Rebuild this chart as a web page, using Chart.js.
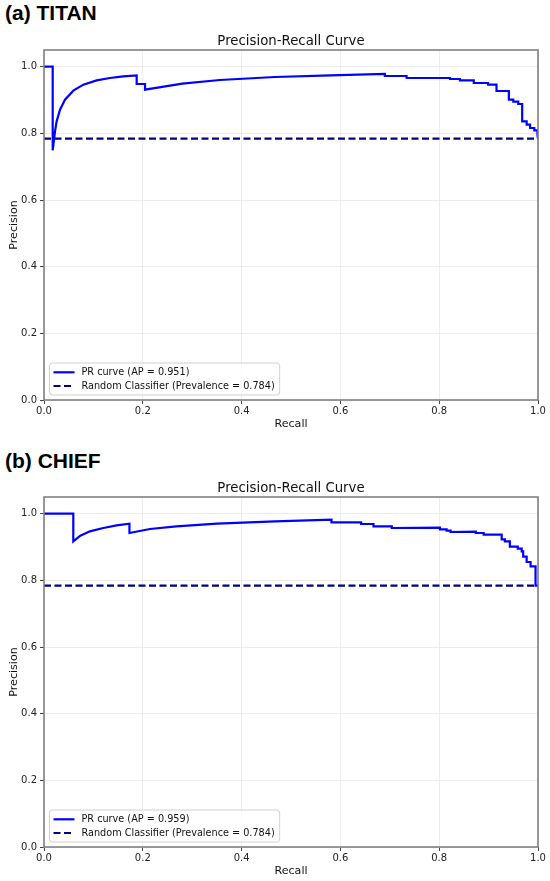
<!DOCTYPE html>
<html>
<head>
<meta charset="utf-8">
<title>Precision-Recall Curves</title>
<script src="https://cdn.jsdelivr.net/npm/chart.js@4.4.1/dist/chart.umd.min.js"></script>
<style>
  html, body { margin: 0; padding: 0; background: #fff; overflow: hidden; }
  body { width: 550px; height: 881px; position: relative; }
  .panel-label { position: absolute; left: 5px; font: bold 21px "Liberation Sans", Arial, sans-serif; line-height: 21px; color: #000; }
  .chart-box { position: absolute; left: 0; width: 550px; height: 407px; }
</style>
</head>
<body>
<div class="panel-label" style="top:2px">(a) TITAN</div>
<div class="chart-box" style="top:28px"><canvas id="titanChart"></canvas></div>
<div class="panel-label" style="top:450px">(b) CHIEF</div>
<div class="chart-box" style="top:475px"><canvas id="chiefChart"></canvas></div>
<script>
// Values
var xTicks = [0, 0.2, 0.4, 0.6, 0.8, 1.0];
var yTicks = [0, 0.2, 0.4, 0.6, 0.8, 1.0];
var prevalence = 0.784;

var titanAP = 0.951;
var titanRecall = [0, 0.0176, 0.0176, 0.0223, 0.0256, 0.0324, 0.0425, 0.0594, 0.0796, 0.1066, 0.1336, 0.1606, 0.1876,
    0.1876, 0.2045, 0.2045, 0.28, 0.356, 0.4676, 0.58, 0.69, 0.69, 0.734, 0.734, 0.822, 0.822, 0.842, 0.842,
    0.870, 0.870, 0.899, 0.899, 0.916, 0.916, 0.941, 0.941, 0.950, 0.950, 0.960, 0.960, 0.968, 0.968,
    0.977, 0.977, 0.984, 0.984, 0.9925, 0.9925, 0.999, 0.999, 1.0];
var titanPrecision = [1.0, 1.0, 0.749, 0.806, 0.836, 0.871, 0.901, 0.928, 0.946, 0.959, 0.966, 0.971, 0.974,
    0.948, 0.948, 0.931, 0.949, 0.960, 0.969, 0.974, 0.978, 0.972, 0.972, 0.966, 0.966, 0.963, 0.963, 0.959,
    0.959, 0.951, 0.951, 0.946, 0.946, 0.927, 0.927, 0.901, 0.901, 0.895, 0.895, 0.888, 0.888, 0.836,
    0.836, 0.826, 0.826, 0.816, 0.816, 0.809, 0.809, 0.796, 0.784];

var chiefAP = 0.959;
var chiefRecall = [0, 0.0593, 0.0593, 0.0735, 0.093, 0.120, 0.147, 0.173, 0.173, 0.2146, 0.268, 0.350, 0.4676,
    0.582, 0.582, 0.642, 0.642, 0.667, 0.667, 0.704, 0.704, 0.8016, 0.8016, 0.815, 0.815, 0.823, 0.823,
    0.874, 0.874, 0.890, 0.890, 0.9265, 0.9265, 0.933, 0.933, 0.943, 0.943, 0.959, 0.959, 0.967, 0.967,
    0.970, 0.970, 0.977, 0.977, 0.985, 0.985, 0.995, 0.995, 1.0];
var chiefPrecision = [1.0, 1.0, 0.917, 0.934, 0.947, 0.957, 0.965, 0.970, 0.942, 0.954, 0.962, 0.970, 0.977,
    0.982, 0.974, 0.974, 0.969, 0.969, 0.962, 0.962, 0.957, 0.958, 0.953, 0.953, 0.949, 0.949, 0.945,
    0.946, 0.942, 0.942, 0.937, 0.937, 0.923, 0.923, 0.917, 0.917, 0.901, 0.901, 0.895, 0.895, 0.887,
    0.887, 0.871, 0.871, 0.855, 0.855, 0.842, 0.842, 0.784, 0.784];

var FONT = '"DejaVu Sans", sans-serif';

function toPoints(xs, ys) {
    return xs.map(function (x, i) { return {x: x, y: ys[i]}; });
}

// Title centred over the plot area, like matplotlib's ax.set_title
var plotTitle = {
    id: 'plotTitle',
    afterDraw: function (chart, args, opts) {
        var ctx = chart.ctx, a = chart.chartArea;
        ctx.save();
        ctx.font = '13.3px ' + FONT;
        ctx.fillStyle = '#111';
        ctx.textAlign = 'center';
        ctx.textBaseline = 'alphabetic';
        ctx.fillText(opts.text, (a.left + a.right) / 2, a.top - 5);
        ctx.restore();
    }
};

// Four-sided axes frame
var frame = {
    id: 'frame',
    afterDatasetsDraw: function (chart) {
        var ctx = chart.ctx, a = chart.chartArea;
        ctx.save();
        ctx.strokeStyle = '#808080';
        ctx.lineWidth = 1.6;
        ctx.strokeRect(a.left, a.top, a.right - a.left, a.bottom - a.top);
        ctx.restore();
    }
};

// Legend box in the lower left corner of the plot
var boxLegend = {
    id: 'boxLegend',
    afterDraw: function (chart) {
        var ctx = chart.ctx, a = chart.chartArea, sets = chart.data.datasets;
        ctx.save();
        ctx.font = '9.7px ' + FONT;
        var maxW = 0;
        sets.forEach(function (ds) { maxW = Math.max(maxW, ctx.measureText(ds.label).width); });
        var x = a.left + 5.5, y = a.bottom - 37, w = 32 + maxW + 5, h = 32;
        ctx.beginPath();
        ctx.roundRect(x, y, w, h, 3);
        ctx.fillStyle = 'rgba(255,255,255,0.8)';
        ctx.fill();
        ctx.strokeStyle = '#d0d0d0';
        ctx.lineWidth = 1;
        ctx.stroke();
        sets.forEach(function (ds, i) {
            var cy = y + 9.3 + i * 13.7;
            ctx.beginPath();
            ctx.setLineDash(ds.borderDash || []);
            ctx.strokeStyle = ds.borderColor;
            ctx.lineWidth = ds.borderWidth;
            ctx.moveTo(x + 4, cy);
            ctx.lineTo(x + 25, cy);
            ctx.stroke();
            ctx.setLineDash([]);
            ctx.fillStyle = '#111';
            ctx.textAlign = 'left';
            ctx.textBaseline = 'middle';
            ctx.fillText(ds.label, x + 32, cy);
        });
        ctx.restore();
    }
};

function makeChart(canvasId, recall, precision, ap) {
    var ctx = document.getElementById(canvasId).getContext('2d');
    return new Chart(ctx, {
        type: 'line',
        data: {
            datasets: [
                {
                    label: 'PR curve (AP = ' + ap.toFixed(3) + ')',
                    data: toPoints(recall, precision),
                    borderColor: '#0000ff',
                    borderWidth: 2.2,
                    pointRadius: 0,
                    tension: 0,
                    order: 1
                },
                {
                    label: 'Random Classifier (Prevalence = ' + prevalence.toFixed(3) + ')',
                    data: toPoints([0, 1], [prevalence, prevalence]),
                    borderColor: '#000080',
                    borderWidth: 2.2,
                    borderDash: [7, 3.5],
                    pointRadius: 0,
                    order: 0
                }
            ]
        },
        options: {
            responsive: true,
            maintainAspectRatio: false,
            animation: false,
            layout: { padding: { top: 22, right: 12, bottom: 0, left: 0 } },
            plugins: {
                legend: { display: false },
                tooltip: { enabled: false },
                plotTitle: { text: 'Precision-Recall Curve' }
            },
            scales: {
                x: {
                    type: 'linear',
                    min: 0,
                    max: 1,
                    afterBuildTicks: function (s) { s.ticks = xTicks.map(function (v) { return {value: v}; }); },
                    afterFit: function (s) { s.height = 35; },
                    ticks: {
                        callback: function (v) { return v.toFixed(1); },
                        font: { family: FONT, size: 10 },
                        color: '#222',
                        padding: 1,
                        maxRotation: 0
                    },
                    grid: { color: '#e8e8e8', lineWidth: 0.8, tickColor: '#444', tickLength: 4, tickWidth: 1 },
                    border: { display: false },
                    title: {
                        display: true,
                        text: 'Recall',
                        font: { family: FONT, size: 11.1 },
                        color: '#111',
                        padding: { top: 0, bottom: 4 }
                    }
                },
                y: {
                    type: 'linear',
                    min: 0,
                    max: 1.05,
                    afterBuildTicks: function (s) { s.ticks = yTicks.map(function (v) { return {value: v}; }); },
                    afterFit: function (s) { s.width = 44; },
                    ticks: {
                        callback: function (v) { return v.toFixed(1); },
                        font: { family: FONT, size: 10 },
                        color: '#222',
                        padding: 3
                    },
                    grid: { color: '#e8e8e8', lineWidth: 0.8, tickColor: '#444', tickLength: 4, tickWidth: 1 },
                    border: { display: false },
                    title: {
                        display: true,
                        text: 'Precision',
                        font: { family: FONT, size: 11.1 },
                        color: '#111',
                        padding: { top: 7, bottom: 0 }
                    }
                }
            }
        },
        plugins: [plotTitle, frame, boxLegend]
    });
}

makeChart('titanChart', titanRecall, titanPrecision, titanAP);
makeChart('chiefChart', chiefRecall, chiefPrecision, chiefAP);
</script>
</body>
</html>
